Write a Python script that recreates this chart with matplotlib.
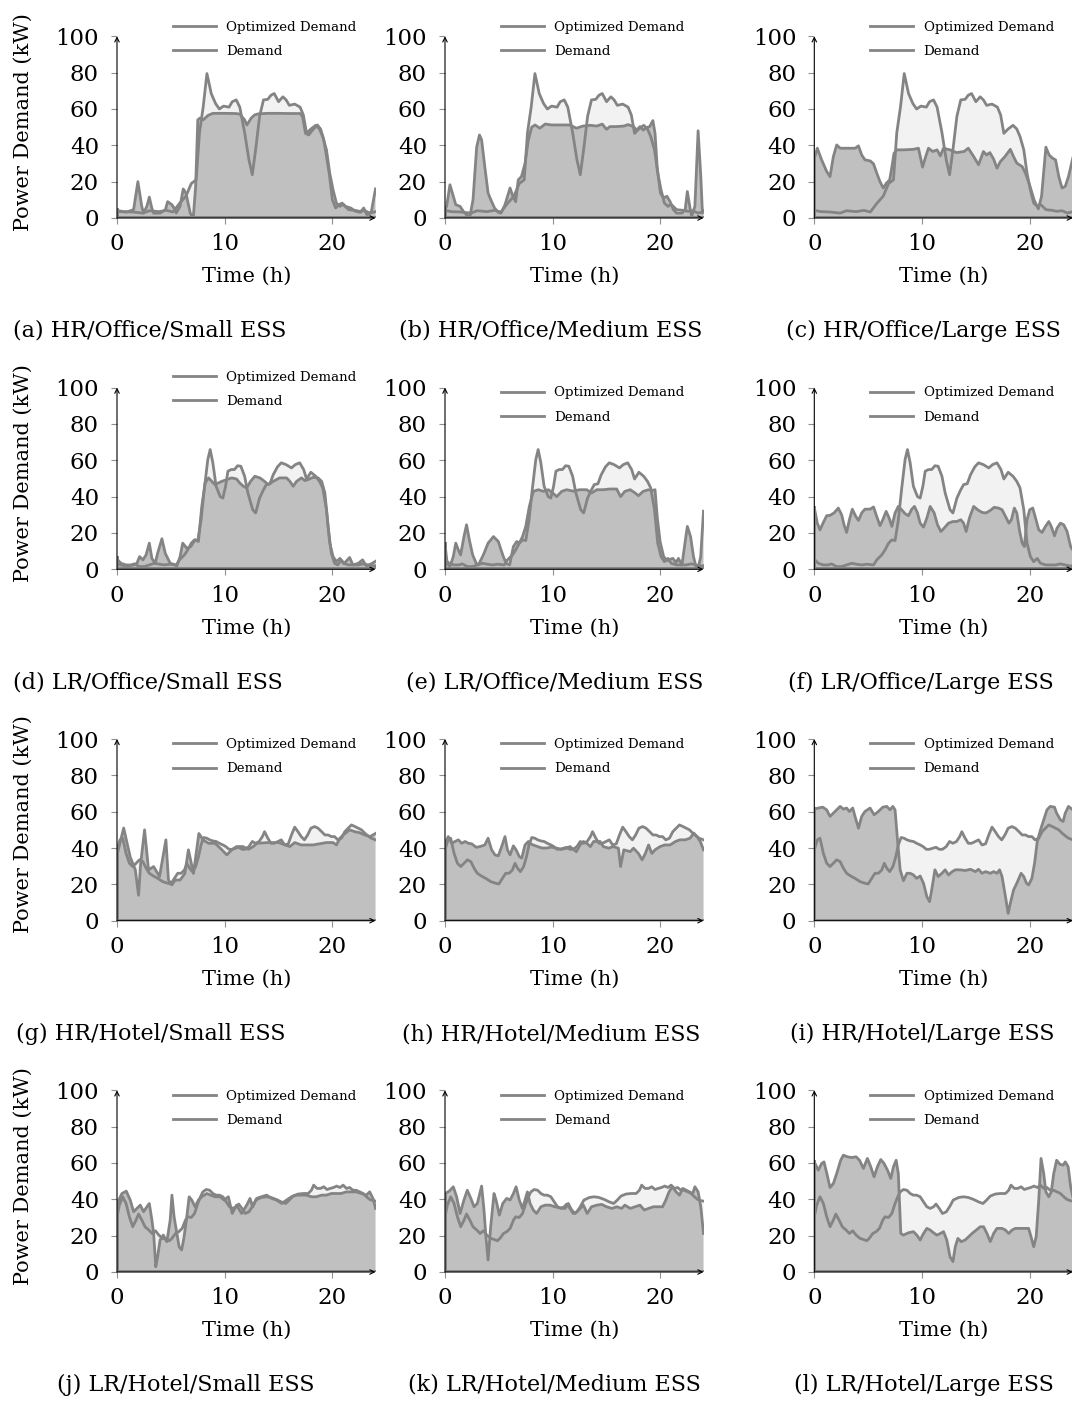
import numpy as np
import matplotlib
matplotlib.use('Agg')
import matplotlib.pyplot as plt

plt.rcParams['font.family'] = ['DejaVu Serif']

LINE = '#848484'
DARK = '#c0c0c0'
LIGHT = '#f2f2f2'

# ---------------- data ----------------
# Demand profiles (one per row)
hr_office_t = [0, 0.6, 1.46, 2.4, 3.0, 3.9, 4.6, 5.2, 5.8, 6.4, 6.9, 7.35, 7.66, 8.0, 8.35, 8.75, 9.15, 9.5, 9.9, 10.4, 10.7, 11.07, 11.4, 11.85, 12.25, 12.56, 12.87, 13.24, 13.6, 14.0, 14.3, 14.6, 15.0, 15.4, 15.7, 16.0, 16.5, 17.0, 17.3, 17.6, 18.0, 18.45, 18.8, 19.1, 19.45, 19.75, 20.06, 20.37, 20.7, 21.0, 21.5, 22.1, 22.5, 23.0, 23.5, 24.0]
hr_office_v = [4.2, 3.5, 3.3, 2.7, 4.0, 3.5, 4.2, 3.3, 8, 12, 19, 21, 47, 61, 79.5, 68.5, 63, 60, 61.6, 61, 64, 65, 61, 47, 32, 23.8, 37.5, 56, 65, 65.3, 67.6, 68.5, 64, 66.7, 65, 62, 62.7, 61, 56.7, 46.6, 49, 51, 49, 44.8, 37.5, 24.7, 15.5, 8.2, 6.4, 7.5, 4.6, 4.2, 3.7, 4.0, 2.7, 3.5]

lr_office_t = [0, 0.37, 0.84, 1.3, 1.6, 2.08, 2.54, 3.0, 3.47, 3.94, 4.4, 4.87, 5.5, 5.8, 6.26, 6.57, 6.9, 7.2, 7.5, 7.8, 8.1, 8.43, 8.65, 8.9, 9.2, 9.58, 9.83, 10.08, 10.3, 10.6, 10.9, 11.2, 11.5, 11.85, 12.15, 12.6, 12.87, 13.24, 13.6, 13.86, 14.2, 14.5, 14.9, 15.25, 15.7, 16.2, 16.55, 16.96, 17.33, 17.6, 18.0, 18.45, 18.8, 19.1, 19.45, 19.75, 20.06, 20.37, 20.7, 21.0, 21.5, 22.4, 22.85, 23.3, 23.8, 24.0]
lr_office_v = [5.5, 3.3, 2.4, 2.4, 3, 1.5, 1.5, 2.4, 3.3, 2.8, 2.4, 2.8, 2.4, 5.2, 7.9, 10.7, 14.4, 16.2, 15.8, 27, 43.8, 60.4, 65.9, 58.6, 45.7, 40, 39.2, 45.7, 54, 54.9, 54.9, 57, 56.7, 51.2, 42, 32.8, 31, 39.2, 43.8, 46.6, 47.1, 52, 56.4, 58.6, 57.6, 55.8, 57.6, 58.6, 54.9, 49.7, 53.4, 51.2, 48.4, 44.8, 32.8, 14.4, 7, 4.2, 6, 3.3, 2.4, 2.4, 3, 2.4, 1.8, 2]

hr_hotel_t = [0, 0.28, 0.53, 0.84, 1.15, 1.46, 1.77, 2.08, 2.4, 2.7, 3.0, 3.38, 3.78, 4.25, 4.71, 5.0, 5.33, 5.64, 5.95, 6.26, 6.5, 6.73, 7.0, 7.3, 7.57, 7.8, 8.06, 8.34, 8.6, 8.9, 9.2, 9.5, 9.83, 10.1, 10.4, 10.7, 11.0, 11.3, 11.6, 11.9, 12.25, 12.56, 12.87, 13.2, 13.5, 13.7, 14.0, 14.3, 14.6, 14.95, 15.25, 15.57, 15.9, 16.2, 16.5, 16.8, 17.1, 17.4, 17.7, 18.0, 18.35, 18.67, 19.0, 19.3, 19.6, 19.9, 20.2, 20.5, 20.84, 21.15, 21.46, 21.77, 22.1, 22.4, 22.7, 23.0, 23.3, 23.6, 24.0]
hr_hotel_v = [39, 44.5, 45.4, 37.1, 31.6, 29.8, 31.6, 33.5, 32.5, 28.9, 26.1, 24.6, 23.3, 21.5, 20.6, 20.2, 23.3, 26.1, 26.1, 27.9, 31.6, 28.9, 27, 29.8, 35.3, 41.7, 45.8, 45.4, 44.5, 43.9, 43.6, 42.6, 41.7, 40.8, 39.3, 39.3, 39.9, 40.4, 39.3, 39.3, 40.8, 43.6, 42.6, 43.6, 46.3, 49, 45.4, 42.6, 42.6, 43.6, 44.5, 41.7, 42.3, 47.2, 51.5, 49, 46.3, 44.5, 47.2, 50.9, 51.8, 50.9, 49, 47.2, 47.2, 46.3, 46.3, 44.5, 45.4, 49, 50.9, 52.7, 51.8, 50.9, 50, 48.2, 46.7, 45.4, 44.5]

lr_hotel_t = [0, 0.22, 0.53, 0.84, 1.15, 1.46, 1.77, 2.0, 2.3, 2.6, 2.95, 3.26, 3.57, 3.88, 4.25, 4.56, 4.87, 5.1, 5.43, 5.74, 6.05, 6.36, 6.57, 6.9, 7.2, 7.5, 7.75, 7.97, 8.28, 8.6, 8.9, 9.2, 9.5, 9.83, 10.14, 10.45, 10.76, 11.07, 11.3, 11.6, 11.9, 12.25, 12.56, 12.9, 13.4, 13.86, 14.3, 14.8, 15.25, 15.66, 16.0, 16.34, 16.8, 17.27, 17.75, 18.05, 18.26, 18.57, 18.9, 19.2, 19.5, 19.8, 20.1, 20.4, 20.7, 21.0, 21.3, 21.6, 21.9, 22.2, 22.54, 22.85, 23.16, 23.47, 23.8, 24.0]
lr_hotel_v = [30.4, 36.8, 41.4, 37.7, 30.4, 24.9, 28.6, 31.9, 28.6, 24.9, 23.1, 21.2, 22.7, 20.3, 18.5, 17.9, 17.2, 18.5, 21.2, 22.2, 24, 28.6, 30.4, 30, 32.2, 37.7, 41.4, 44.1, 45.4, 45, 43.2, 42.3, 42.3, 41.4, 38.6, 35.9, 35, 35.9, 37.4, 35, 32.2, 33.1, 35.9, 39.6, 41, 41.4, 41, 39.9, 38.6, 37.7, 39.6, 41.8, 42.9, 43.2, 43.2, 45, 47.8, 46, 46, 46.9, 45.4, 46, 46.5, 47.3, 46.5, 47.8, 46, 46.5, 45, 45, 44.1, 43.2, 41.4, 39.9, 39.2, 39]

# Optimized demand (one per panel)
opt_a_t = [0, 0.9, 1.54, 1.94, 2.3, 2.46, 2.77, 3.0, 3.23, 3.4, 4.0, 4.5, 4.7, 5.1, 5.4, 5.5, 5.85, 6.15, 6.4, 6.6, 6.8, 7.08, 7.3, 7.5, 7.7, 8.0, 8.46, 8.9, 10.0, 11.0, 11.4, 11.85, 12.06, 12.46, 12.77, 13.1, 14.0, 15.0, 16.0, 17.0, 17.23, 17.5, 17.8, 18.15, 18.6, 18.9, 19.2, 19.7, 20.0, 20.3, 20.6, 20.9, 21.2, 21.7, 22.15, 22.6, 22.9, 23.2, 23.6, 24.0]
opt_a_v = [3.6, 3.3, 4.6, 20, 6.4, 2.7, 6.4, 11.5, 5.5, 2.7, 2.7, 4.6, 9, 7.3, 4.6, 2.7, 6.4, 16, 13.7, 8.2, 2.7, 0, 17, 54, 55, 54, 56.5, 57.6, 57.6, 57.5, 57.2, 54, 51.2, 55, 56.7, 57.3, 57.6, 57.6, 57.5, 57.5, 55.8, 46.6, 45.7, 48.4, 51.2, 49, 43, 24.7, 10, 5.5, 7.3, 8.2, 6.4, 5.5, 3.7, 3.1, 5.5, 1.8, 3, 16]

opt_b_t = [0, 0.15, 0.46, 0.77, 1.0, 1.4, 1.7, 2.0, 2.3, 2.6, 2.94, 3.2, 3.4, 3.7, 4.0, 4.33, 4.6, 4.95, 5.2, 5.57, 6.04, 6.3, 6.56, 6.8, 7.1, 7.43, 7.74, 8.05, 8.36, 8.8, 9.3, 9.9, 10.7, 11.6, 12.2, 12.8, 13.5, 14.1, 14.6, 15.0, 15.3, 15.9, 16.6, 17.0, 17.5, 17.8, 18.1, 18.4, 18.7, 19.0, 19.3, 19.5, 19.7, 20.0, 20.3, 20.6, 20.9, 21.2, 21.5, 22.0, 22.3, 22.5, 22.75, 22.9, 23.2, 23.5, 23.75, 23.9, 24.0]
opt_b_v = [5, 6.4, 18.3, 12, 7.3, 6.4, 3.7, 1.8, 0.5, 10, 39, 45.7, 43, 28, 13.7, 9, 5.5, 3.1, 2.7, 7.3, 16.5, 12, 9, 21, 22.8, 30, 43, 50, 51.2, 49.4, 51.7, 51.2, 51.2, 51.2, 49.4, 50.6, 51, 50.6, 51.7, 48.8, 50.3, 50.3, 50.6, 51.4, 50.3, 48.4, 50.3, 48.4, 49.7, 50.3, 53.6, 46.6, 28, 13.7, 11, 12, 9, 4.6, 2.7, 2.7, 4.6, 14.6, 5.5, 1, 6.4, 48, 22.8, 2.7, 4]

opt_c_t = [0, 0.28, 0.68, 1.15, 1.46, 1.77, 2.08, 2.4, 3.3, 3.8, 4.1, 4.4, 4.7, 5.2, 5.5, 5.8, 6.1, 6.4, 6.7, 7.0, 7.2, 7.4, 7.66, 8.3, 9.2, 9.67, 10.05, 10.3, 10.6, 11.0, 11.4, 11.7, 12.0, 12.6, 13.2, 13.9, 14.3, 14.8, 15.25, 15.7, 16.0, 16.3, 16.65, 16.96, 17.27, 17.7, 18.2, 18.5, 18.8, 19.3, 19.6, 20.0, 20.4, 20.8, 21.1, 21.5, 21.8, 22.1, 22.4, 22.7, 23.0, 23.3, 23.6, 24.0]
opt_c_v = [33, 38.4, 32, 25.6, 22.8, 33.8, 40.2, 38.4, 38.4, 38.4, 39.7, 34.7, 32, 31.4, 29.8, 24.7, 20, 16.5, 19.2, 21, 28, 35.6, 37.5, 37.5, 37.8, 38.4, 28, 33, 38.4, 36.6, 37.5, 34.2, 38.4, 37.5, 36, 36.6, 38.4, 33.8, 29.3, 36.6, 34.7, 36, 32.4, 27.4, 31, 33.8, 37.8, 33.8, 30.2, 28.3, 24.7, 18, 10, 5, 12, 39, 34.7, 33, 32, 22.8, 16.5, 17.4, 22.8, 33]

opt_d_t = [0, 0.3, 0.93, 1.54, 1.85, 2.1, 2.4, 2.7, 3.0, 3.24, 3.55, 3.77, 4.17, 4.48, 4.94, 5.25, 5.56, 5.86, 6.1, 6.48, 6.85, 7.25, 7.56, 7.87, 8.18, 8.5, 8.8, 9.1, 9.4, 9.72, 10.2, 10.65, 11.1, 11.4, 11.73, 12.04, 12.4, 12.8, 13.27, 13.7, 14.04, 14.5, 15.1, 15.74, 16.05, 16.36, 16.67, 17.13, 17.44, 17.75, 18.2, 18.67, 19.0, 19.3, 19.6, 19.9, 20.2, 20.5, 20.8, 21.1, 21.6, 21.9, 22.4, 22.8, 23.15, 23.6, 24.0]
opt_d_v = [6, 2.4, 1.8, 2.4, 3.3, 7, 5.2, 7.9, 14.4, 6, 3.3, 8.8, 16.8, 8.8, 3.3, 2.8, 1.8, 7, 14.4, 11.6, 12.5, 16.2, 15.3, 34.6, 47.5, 50.3, 48.4, 46.6, 47.5, 48.4, 49.4, 50.3, 49.7, 47.5, 45.7, 44.8, 48.4, 51.2, 50.3, 48.4, 46.6, 48.4, 50.3, 50.3, 48.4, 45.7, 48.4, 50.3, 48.8, 49.4, 50.6, 50.3, 48.4, 42, 23.6, 8.8, 3.3, 2.4, 5.2, 3.3, 6.5, 2.4, 3.3, 5.2, 1.8, 3, 4.4]

opt_e_t = [0, 0.2, 0.46, 0.77, 1.0, 1.24, 1.45, 1.76, 2.0, 2.26, 2.57, 2.9, 3.1, 3.56, 4.0, 4.5, 4.95, 5.36, 5.67, 6.0, 6.35, 6.66, 6.9, 7.2, 7.5, 7.83, 8.2, 8.67, 9.13, 9.6, 10.0, 10.37, 10.84, 11.3, 11.9, 12.5, 13.16, 13.6, 14.1, 14.7, 15.3, 15.94, 16.3, 16.7, 17.2, 17.65, 17.96, 18.4, 18.9, 19.2, 19.5, 19.7, 19.97, 20.3, 20.6, 20.9, 21.15, 21.46, 21.67, 22.0, 22.3, 22.5, 22.8, 23.07, 23.3, 23.5, 23.74, 24.0]
opt_e_v = [14, 3.3, 1.5, 7, 14.4, 10.7, 7.9, 18, 24.5, 16.2, 7.9, 3.3, 2.4, 7.9, 14.4, 18, 15.3, 7.9, 3.3, 2.4, 12.5, 15.3, 14.4, 18, 23.6, 34.6, 42.9, 43.8, 42.9, 43.8, 42, 40, 42.9, 43.8, 43, 43.8, 43.8, 42, 43.8, 43.8, 44.2, 44.2, 40, 42.9, 43.8, 42, 40.5, 42.9, 43.8, 43.3, 43.8, 29, 15.3, 7, 4.8, 5.5, 6, 3.7, 6, 2.4, 15.3, 23.6, 18, 7, 1.5, 0.5, 7, 32]

opt_f_t = [0, 0.28, 0.53, 0.84, 1.15, 1.46, 1.83, 2.23, 2.54, 2.76, 3.0, 3.26, 3.53, 3.85, 4.1, 4.4, 4.7, 5.18, 5.5, 5.8, 6.1, 6.36, 6.67, 6.95, 7.2, 7.5, 7.8, 8.1, 8.43, 8.74, 9.05, 9.3, 9.58, 9.83, 10.14, 10.45, 10.76, 11.13, 11.44, 11.75, 12.06, 12.46, 12.87, 13.24, 13.6, 13.86, 14.1, 14.4, 14.8, 15.16, 15.57, 15.94, 16.34, 16.7, 17.1, 17.43, 17.75, 18.07, 18.3, 18.57, 18.8, 19.07, 19.3, 19.5, 19.75, 20.0, 20.28, 20.5, 20.84, 21.15, 21.46, 21.77, 22.0, 22.3, 22.54, 22.85, 23.16, 23.47, 23.8, 24.0]
opt_f_v = [33.7, 25.4, 21.7, 25.8, 29.5, 29.7, 31, 33.7, 30, 24.5, 20.3, 27.3, 33.1, 29.1, 26.9, 31, 33.1, 33.1, 34.3, 29, 24, 27.3, 31.9, 28.2, 23.6, 31, 34.6, 32.8, 30.6, 29.5, 33.1, 34.6, 31, 25.4, 23.2, 28.2, 34.6, 31, 24.5, 20.8, 22.7, 25.4, 26.3, 26.3, 27.3, 25.4, 20.8, 28.2, 34.6, 32.8, 31.3, 31, 32.4, 34.1, 33.7, 32.8, 29.1, 25.4, 27.3, 33.7, 31, 20.8, 14.4, 12.5, 27.3, 32.8, 33.7, 29.1, 21.7, 20.3, 23.6, 26.3, 23.6, 18.4, 22.7, 25.4, 24.5, 20.8, 12.5, 10.7]

opt_g_t = [0, 0.62, 1.23, 1.7, 2.0, 2.2, 2.56, 2.93, 3.4, 3.95, 4.54, 4.78, 5.1, 5.4, 5.86, 6.3, 6.63, 7.1, 7.6, 8.0, 8.5, 9.1, 9.57, 10.2, 10.65, 11.1, 11.7, 12.2, 12.65, 13.0, 14.0, 15.0, 16.05, 16.5, 17.1, 18.2, 19.44, 20.06, 20.37, 20.7, 21.0, 21.6, 22.07, 22.5, 23.0, 23.5, 24.0]
opt_g_v = [36, 51, 35, 28, 14, 31.6, 50, 28, 29.8, 24.3, 44.5, 22.4, 19.7, 22.4, 22.4, 26, 39, 26, 48, 44.5, 42.6, 42.6, 40, 36.2, 39, 40.8, 40.8, 39.3, 40.8, 42.6, 43, 43, 40.8, 43, 41.7, 41.7, 43, 43, 41.7, 45.4, 47.2, 50, 49, 48.5, 47.2, 46.3, 48]

opt_h_t = [0, 0.3, 0.62, 0.93, 1.24, 1.55, 1.86, 2.17, 2.48, 2.9, 3.25, 3.7, 4.0, 4.33, 4.64, 4.95, 5.26, 5.57, 5.8, 6.04, 6.35, 6.6, 6.9, 7.12, 7.43, 7.74, 8.05, 8.5, 9.0, 9.44, 9.9, 10.37, 10.84, 11.3, 11.6, 11.9, 12.2, 12.54, 12.85, 13.16, 13.5, 13.8, 14.4, 14.7, 15.2, 15.6, 16.1, 16.3, 16.6, 17.2, 17.5, 17.96, 18.3, 18.6, 18.9, 19.2, 19.5, 19.97, 20.4, 20.9, 21.4, 21.8, 22.3, 22.75, 23.1, 23.4, 23.7, 24.0]
opt_h_v = [42.6, 46.3, 42.6, 43.6, 44.5, 42.6, 43.6, 42.6, 42.3, 40.4, 40.8, 41.7, 45.4, 39, 36.2, 35.7, 40.8, 46.3, 39, 36.2, 41.2, 39, 35.3, 34.4, 41.7, 43.6, 42, 41, 40, 40, 40.5, 39.9, 39.3, 39.9, 40.8, 39.3, 38, 41.7, 43.6, 42.6, 40.8, 43.6, 43.6, 40.8, 39.9, 40.8, 39.9, 29.8, 39, 38, 39.9, 37, 33.5, 37, 41.7, 37, 39, 40.8, 41.7, 41.7, 43.6, 44.5, 44.5, 45.4, 48.2, 46.3, 43.6, 39]

opt_i_t = [0, 0.37, 0.78, 1.15, 1.46, 1.92, 2.4, 2.7, 3.0, 3.26, 3.57, 3.78, 4.1, 4.4, 4.7, 5.18, 5.55, 5.95, 6.36, 6.73, 7.04, 7.29, 7.5, 7.75, 7.97, 8.28, 8.6, 8.9, 9.2, 9.5, 9.83, 10.14, 10.45, 10.7, 10.9, 11.2, 11.5, 11.85, 12.15, 12.46, 12.8, 13.1, 13.55, 14.0, 14.5, 14.95, 15.25, 15.57, 15.9, 16.34, 16.65, 16.96, 17.2, 17.43, 17.75, 18.0, 18.2, 18.5, 18.8, 19.2, 19.45, 19.7, 19.9, 20.2, 20.45, 20.7, 21.0, 21.3, 21.6, 21.9, 22.3, 22.5, 22.85, 23.1, 23.3, 23.6, 24.0]
opt_i_v = [61.4, 62, 62.5, 61, 57.4, 60.1, 62.9, 61.4, 62, 60.1, 62, 57.4, 50.9, 57.4, 60.1, 62, 58.3, 60.1, 62.5, 62.9, 61, 62.9, 61, 42.6, 28, 22, 26.1, 26.1, 25.2, 23.3, 24.6, 20.6, 13.2, 10.5, 16.9, 28, 24.3, 26.1, 28, 25.2, 27, 28, 28, 27.6, 28.3, 27, 28.3, 26.1, 27, 26.1, 27, 26.1, 28, 24.3, 13.2, 4, 9.6, 16.9, 20.6, 26.1, 24.3, 20.6, 19.7, 23.3, 31.6, 43.6, 50, 55.5, 61, 62.9, 62.5, 59.2, 55.5, 54.6, 59.2, 62.9, 61]

opt_j_t = [0, 0.46, 0.86, 1.23, 1.54, 1.85, 2.16, 2.47, 2.78, 3.0, 3.24, 3.4, 3.6, 3.77, 4.0, 4.3, 4.63, 4.94, 5.1, 5.3, 5.56, 5.77, 6.0, 6.23, 6.48, 6.7, 6.94, 7.25, 7.56, 7.87, 8.33, 8.7, 9.1, 9.57, 9.94, 10.34, 10.7, 11.1, 11.57, 12.04, 12.35, 12.6, 12.96, 13.4, 13.9, 14.35, 14.8, 15.3, 15.74, 16.2, 16.67, 17.6, 18.06, 18.5, 19.0, 19.44, 19.9, 20.37, 20.8, 21.3, 21.76, 22.2, 22.7, 23.15, 23.46, 23.8, 24.0]
opt_j_v = [37.7, 43.2, 44.5, 39.6, 33.2, 35, 36.8, 33.2, 35.9, 37.7, 28.6, 21.2, 2.9, 8.4, 17.6, 20.3, 16.7, 28.6, 42.3, 30.4, 21.2, 13.9, 12.1, 19.4, 30.4, 41.4, 39.6, 35.9, 39.6, 41.4, 43.2, 42.3, 41.4, 41.4, 39.6, 41.4, 32.2, 36.8, 32.2, 36.8, 40.5, 35.9, 40.5, 41.4, 42.3, 40.5, 39.6, 37.7, 39.6, 41.4, 42.3, 42.3, 41.4, 41.4, 42.3, 42.3, 43.2, 43.2, 43.2, 44.1, 44.1, 44.1, 43.2, 42.3, 44.1, 40, 35]

opt_k_t = [0, 0.4, 0.77, 1.08, 1.4, 1.76, 2.07, 2.4, 2.7, 3.0, 3.4, 3.62, 3.8, 4.0, 4.24, 4.55, 4.74, 5.05, 5.36, 5.73, 6.04, 6.35, 6.6, 6.9, 7.18, 7.43, 7.65, 7.9, 8.2, 8.5, 8.9, 9.3, 9.75, 10.2, 10.7, 11.15, 11.45, 11.76, 12.07, 12.4, 12.85, 13.2, 13.6, 14.1, 14.55, 15.0, 15.5, 15.94, 16.4, 16.7, 17.2, 17.65, 18.1, 18.5, 18.9, 19.35, 19.8, 20.2, 20.5, 20.8, 21.1, 21.46, 21.77, 22.07, 22.4, 22.7, 23.0, 23.2, 23.5, 23.75, 24.0]
opt_k_v = [43.2, 44.5, 46.9, 41.4, 32.2, 39.6, 45, 40.5, 35.9, 37.7, 47.3, 34.1, 19.4, 6.6, 24.9, 43.2, 39.6, 31.3, 37.7, 40.5, 39.6, 43.2, 46.9, 39.6, 35, 39.6, 44.1, 37.7, 34.1, 32.2, 35.9, 36.8, 36.8, 35.9, 35.3, 35, 37.7, 34.1, 32.2, 34.1, 36.8, 32.2, 35.9, 36.8, 37.2, 35.9, 35, 35.9, 35, 36.8, 35, 35.9, 36.8, 34.1, 35, 35.9, 35.9, 35.9, 39.6, 44.1, 46.9, 44.1, 42.3, 46, 45, 44.1, 43.2, 46.9, 44.1, 35.9, 21.2]

opt_l_t = [0, 0.37, 0.68, 0.9, 1.2, 1.46, 1.77, 2.08, 2.45, 2.7, 3.07, 3.47, 3.88, 4.2, 4.56, 4.93, 5.24, 5.55, 5.86, 6.17, 6.48, 6.8, 7.1, 7.35, 7.6, 7.8, 8.03, 8.28, 8.74, 9.2, 9.52, 9.83, 10.14, 10.45, 10.76, 11.07, 11.38, 11.7, 12.0, 12.3, 12.6, 12.87, 13.09, 13.33, 13.64, 14.0, 14.33, 14.64, 15.04, 15.4, 15.72, 16.03, 16.34, 16.65, 16.96, 17.43, 17.74, 18.05, 18.36, 18.67, 19.13, 19.6, 19.9, 20.12, 20.37, 20.6, 20.84, 21.05, 21.3, 21.5, 21.77, 22.0, 22.23, 22.5, 22.8, 23.1, 23.3, 23.57, 23.8, 24.0]
opt_l_v = [60.6, 56, 59.7, 60.6, 53.3, 46.5, 48.7, 54.2, 61.5, 64.3, 63.4, 63, 63.4, 61.5, 57, 62.5, 57.9, 52.4, 57.9, 61.9, 59.7, 56, 51.5, 57.9, 61.5, 54.2, 21.2, 20.3, 21.6, 22.2, 20.3, 17.6, 21.2, 24, 23.1, 21.6, 20.3, 21.2, 22.2, 17.6, 8.4, 5.7, 13.9, 18.5, 16.7, 17.6, 19.4, 21.2, 23.1, 24.9, 24.9, 21.2, 16.7, 21.2, 24, 24, 23.1, 21.2, 23.1, 24, 24, 24, 24, 19.4, 13.9, 19.4, 39.6, 62.5, 54.2, 44.1, 41.4, 44.1, 54.2, 61.5, 59.3, 58.8, 60.6, 57.9, 46.9, 41.4]

captions = ['(a) HR/Office/Small ESS', '(b) HR/Office/Medium ESS', '(c) HR/Office/Large ESS',
            '(d) LR/Office/Small ESS', '(e) LR/Office/Medium ESS', '(f) LR/Office/Large ESS',
            '(g) HR/Hotel/Small ESS', '(h) HR/Hotel/Medium ESS', '(i) HR/Hotel/Large ESS',
            '(j) LR/Hotel/Small ESS', '(k) LR/Hotel/Medium ESS', '(l) LR/Hotel/Large ESS']

demands = [(hr_office_t, hr_office_v), (lr_office_t, lr_office_v),
           (hr_hotel_t, hr_hotel_v), (lr_hotel_t, lr_hotel_v)]
optimized = [(opt_a_t, opt_a_v), (opt_b_t, opt_b_v), (opt_c_t, opt_c_v),
             (opt_d_t, opt_d_v), (opt_e_t, opt_e_v), (opt_f_t, opt_f_v),
             (opt_g_t, opt_g_v), (opt_h_t, opt_h_v), (opt_i_t, opt_i_v),
             (opt_j_t, opt_j_v), (opt_k_t, opt_k_v), (opt_l_t, opt_l_v)]

x_ticks = [0, 10, 20]
y_ticks = [0, 20, 40, 60, 80, 100]

# ---------------- layout ----------------
W, H = 1072, 1401
col_left = [117, 445, 814.3]
row_zero = [218, 569.3, 920.7, 1272]
ax_w, ax_h = 258.5, 181.7
cap_y = [331, 683, 1034, 1385]
cap_x = [[150, 551, 923], [148, 555, 921], [151, 551, 922], [186, 554, 924]]
leg_y = [[0.984, 0.984, 0.984], [0.99, 0.905, 0.905], [0.902, 0.902, 0.902], [0.90, 0.90, 0.90]]

fig = plt.figure(figsize=(W / 100, H / 100), dpi=100)
LW = 2.0

for r in range(4):
    dt, dv = demands[r]
    for c in range(3):
        k = r * 3 + c
        ot, ov = optimized[k]
        ax = fig.add_axes([col_left[c] / W, 1 - row_zero[r] / H, ax_w / W, ax_h / H])
        ax.set_xlim(0, 24)
        ax.set_ylim(0, 100)
        ax.fill_between(dt, dv, 0, facecolor=LIGHT, linewidth=0, zorder=1)
        ax.fill_between(ot, ov, 0, facecolor=DARK, linewidth=0, zorder=2)
        # closing strokes of the filled areas (baseline and left side), clipped by the axes
        ax.axhline(0, color=LINE, lw=LW * 1.4, zorder=2.5)
        ax.plot([dt[0], dt[0]], [0, dv[0]], color=LINE, lw=LW * 1.4, zorder=2.5)
        ax.plot([ot[0], ot[0]], [0, ov[0]], color=LINE, lw=LW * 1.4, zorder=2.5)
        l1, = ax.plot(ot, ov, color=LINE, lw=LW, label='Optimized Demand', zorder=3)
        l2, = ax.plot(dt, dv, color=LINE, lw=LW, label='Demand', zorder=3)
        for s in ax.spines.values():
            s.set_visible(False)
        ax.annotate('', xy=(0, 1.0), xytext=(0, 0), xycoords='axes fraction', textcoords='axes fraction',
                    arrowprops=dict(arrowstyle='->', lw=0.8, color='black', shrinkA=0, shrinkB=0,
                                    mutation_scale=8), zorder=5, annotation_clip=False)
        ax.annotate('', xy=(1.0, 0), xytext=(0, 0), xycoords='axes fraction', textcoords='axes fraction',
                    arrowprops=dict(arrowstyle='->', lw=0.8, color='black', shrinkA=0, shrinkB=0,
                                    mutation_scale=8), zorder=5, annotation_clip=False)
        ax.set_xticks(x_ticks)
        ax.set_yticks(y_ticks)
        ax.tick_params(axis='both', direction='out', length=4, width=0.8, color='#909090',
                       labelsize=16.5, labelcolor='black')
        ax.tick_params(axis='y', pad=9)
        ax.tick_params(axis='x', pad=7)
        ax.set_xlabel('Time (h)', fontsize=15)
        ax.xaxis.set_label_coords(0.5, -0.27)
        if c == 0:
            ax.set_ylabel('Power Demand (kW)', fontsize=15)
            ax.yaxis.set_label_coords(-0.325, 0.53)
        ax.legend(handles=[l1, l2], loc='center left', bbox_to_anchor=(0.217, leg_y[r][c]),
                  frameon=False, fontsize=9.6, handlelength=3.2, handletextpad=0.8,
                  labelspacing=0.85, borderpad=0, borderaxespad=0)
        fig.text(cap_x[r][c] / W, 1 - cap_y[r] / H, captions[k], ha='center', va='center', fontsize=16)

fig.savefig('out.png', dpi=100)
